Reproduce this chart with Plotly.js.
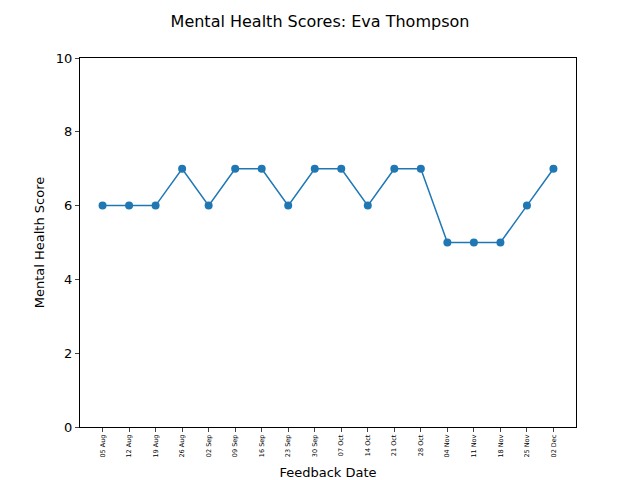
<!DOCTYPE html>
<html>
<head>
<script src="https://cdn.plot.ly/plotly-3.0.1.min.js"></script>
<style>body{margin:0}#chart{width:640px;height:480px}</style>
</head>
<body>
<div id="chart"></div>
<script>
const dates = ['05 Aug','12 Aug','19 Aug','26 Aug','02 Sep','09 Sep','16 Sep','23 Sep','30 Sep','07 Oct','14 Oct','21 Oct','28 Oct','04 Nov','11 Nov','18 Nov','25 Nov','02 Dec'];
const scores = [6,6,6,7,6,7,7,6,7,7,6,7,7,5,5,5,6,7];

const idx = dates.map((d, i) => i);

const data = [{
    type: 'scatter',
    mode: 'lines+markers',
    x: idx,
    y: scores,
    line: {color: '#1f77b4', width: 1.5},
    marker: {color: '#1f77b4', size: 8}
}];

const layout = {
    width: 640,
    height: 480,
    margin: {l: 80, r: 64, t: 58, b: 53},
    paper_bgcolor: 'white',
    plot_bgcolor: 'white',
    font: {family: 'DejaVu Sans', color: 'black'},
    title: {text: 'Mental Health Scores: Eva Thompson', x: 0.5, y: 0.955, yanchor: 'middle', font: {size: 16}},
    showlegend: false,
    xaxis: {
        range: [-0.85, 17.85],
        tickvals: idx,
        ticktext: dates,
        tickangle: -90,
        tickfont: {size: 6.5},
        ticks: 'outside',
        ticklen: 4,
        showgrid: false,
        zeroline: false,
        showline: true,
        mirror: true,
        linecolor: 'black',
        linewidth: 1,
        title: {text: 'Feedback Date', font: {size: 13}, standoff: 14}
    },
    yaxis: {
        range: [0, 10],
        tickvals: [0, 2, 4, 6, 8, 10],
        tickfont: {size: 13},
        ticks: 'outside',
        ticklen: 4,
        showgrid: false,
        zeroline: false,
        showline: true,
        mirror: true,
        linecolor: 'black',
        linewidth: 1,
        title: {text: 'Mental Health Score', font: {size: 13}}
    }
};

Plotly.newPlot('chart', data, layout, {displayModeBar: false});
</script>
</body>
</html>
